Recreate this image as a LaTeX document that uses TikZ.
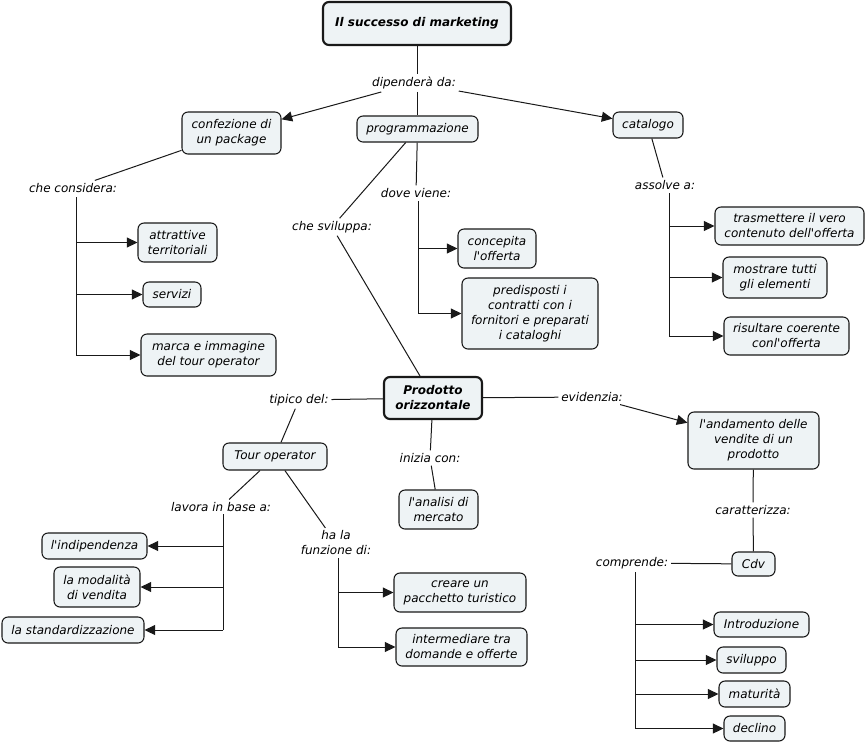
\documentclass[tikz,border=0pt]{standalone}
\usepackage{fontspec}
\newfontfamily\dv{DejaVu Sans}
\usetikzlibrary{arrows.meta}
\definecolor{boxfill}{RGB}{238,243,245}
\definecolor{ln}{RGB}{25,25,25}
\begin{document}
\begin{tikzpicture}[x=0.75pt,y=-0.75pt,
  every node/.style={font=\dv\fontsize{9}{11.25}\selectfont\itshape},
  box/.style={draw=ln, line width=0.8pt, fill=boxfill, rounded corners=4.5pt, align=center, inner sep=2pt},
  bigbox/.style={box, line width=1.6pt, font=\dv\fontsize{9}{11.25}\selectfont\bfseries\itshape},
  lbl/.style={align=center, inner sep=2pt},
  wh/.style 2 args={minimum width=#1*0.75pt, minimum height=#2*0.75pt},
  conn/.style={draw=ln, line width=0.75pt},
  arr/.style={conn, -{Triangle[length=8pt,width=7.5pt]}}]
\useasboundingbox (0,0) rectangle (866,744);
\fill[white] (0,0) rectangle (866,744);
% nodes
\node[bigbox, wh={188}{43}] (title) at (417,23.5) {Il successo di marketing};
\node[lbl] (dip) at (414,83) {dipenderà da:};
\node[box, wh={99}{42}] (conf) at (231.5,133) {confezione di\\un package};
\node[box, wh={121}{26}] (prog) at (417.5,129) {programmazione};
\node[box, wh={70}{26}] (cat) at (648,125) {catalogo};
\node[lbl] (chec) at (73,188) {che considera:};
\node[box, wh={79}{39}] (attr) at (177.5,242.5) {attrattive\\territoriali};
\node[box, wh={58}{25}] (serv) at (172,294.5) {servizi};
\node[box, wh={135}{42}] (marca) at (208.5,355) {marca e immagine\\del tour operator};
\node[lbl] (dove) at (416,193) {dove viene:};
\node[box, wh={78}{39}] (conc) at (497,248.5) {concepita\\l'offerta};
\node[box, wh={136}{71}] (pred) at (530,313.5) {predisposti i\\contratti con i\\fornitori e preparati\\i cataloghi};
\node[lbl] (svil) at (332,227) {che sviluppa:};
\node[lbl] (ass) at (665,185) {assolve a:};
\node[box, wh={149}{38}] (tras) at (789.5,226) {trasmettere il vero\\contenuto dell'offerta};
\node[box, wh={104}{41}] (most) at (775,277.5) {mostrare tutti\\gli elementi};
\node[box, wh={125}{38}] (ris) at (786.5,336) {risultare coerente\\conl'offerta};
\node[bigbox, wh={98}{42}] (prod) at (433,398) {Prodotto\\orizzontale};
\node[lbl] (tip) at (299,400) {tipico del:};
\node[box, wh={104}{27}] (tour) at (275,456.5) {Tour operator};
\node[lbl] (iniz) at (430,458) {inizia con:};
\node[box, wh={79}{39}] (anal) at (438.5,509.5) {l'analisi di\\mercato};
\node[lbl] (evid) at (592,397) {evidenzia:};
\node[box, wh={131}{57}] (andam) at (753.5,440.5) {l'andamento delle\\vendite di un\\prodotto};
\node[lbl] (car) at (753,510) {caratterizza:};
\node[box, wh={43}{24}] (cdv) at (753.5,564) {Cdv};
\node[lbl] (comp) at (632,563) {comprende:};
\node[box, wh={95}{25}] (intro) at (761.5,624.5) {Introduzione};
\node[box, wh={69}{26}] (svilu) at (751.5,660) {sviluppo};
\node[box, wh={71}{26}] (mat) at (754.5,694) {maturità};
\node[box, wh={61}{25}] (decl) at (754.5,728.5) {declino};
\node[lbl] (lav) at (221,507) {lavora in base a:};
\node[box, wh={105}{26}] (indip) at (94.5,546) {l'indipendenza};
\node[box, wh={86}{40}] (moda) at (97,587) {la modalità\\di vendita};
\node[box, wh={142}{26}] (stand) at (73,630) {la standardizzazione};
\node[lbl] (funz) at (336,543) {ha la\\funzione di:};
\node[box, wh={132}{39}] (crea) at (460,592.5) {creare un\\pacchetto turistico};
\node[box, wh={131}{38}] (inter) at (461.5,647) {intermediare tra\\domande e offerte};
% connectors
\draw[conn] (title) -- (title |- dip.north);
\draw[conn] (dip.south -| prog) -- (prog);
\draw[arr] (dip) -- (conf);
\draw[arr] (dip) -- (cat);
\draw[conn] (conf) -- (chec);
\draw[conn] (prog) -- (dove);
\draw[conn] (prog) -- (svil);
\draw[conn] (svil) -- (prod);
\draw[conn] (cat) -- (ass);
\draw[conn] (prod) -- (tip);
\draw[conn] (tip) -- (tour);
\draw[conn] (prod) -- (iniz);
\draw[conn] (iniz) -- (anal);
\draw[conn] (prod) -- (evid);
\draw[arr] (evid) -- (andam);
\draw[conn] (andam) -- (car);
\draw[conn] (car) -- (cdv);
\draw[conn] (cdv) -- (comp);
\draw[conn] (tour) -- (lav);
\draw[conn] (tour) -- (funz);
% trunks
\coordinate (ccx) at (76,197);
\draw[conn] (ccx) -- (ccx |- marca.west);
\draw[arr] (ccx |- attr.west) -- (attr.west);
\draw[arr] (ccx |- serv.west) -- (serv.west);
\draw[arr] (ccx |- marca.west) -- (marca.west);
\coordinate (dvx) at (418,201);
\draw[conn] (dvx) -- (dvx |- pred.west);
\draw[arr] (dvx |- conc.west) -- (conc.west);
\draw[arr] (dvx |- pred.west) -- (pred.west);
\coordinate (asx) at (669,193);
\draw[conn] (asx) -- (asx |- ris.west);
\draw[arr] (asx |- tras.west) -- (tras.west);
\draw[arr] (asx |- most.west) -- (most.west);
\draw[arr] (asx |- ris.west) -- (ris.west);
\coordinate (lvx) at (223,514);
\draw[conn] (lvx) -- (lvx |- stand.east);
\draw[arr] (lvx |- indip.east) -- (indip.east);
\draw[arr] (lvx |- moda.east) -- (moda.east);
\draw[arr] (lvx |- stand.east) -- (stand.east);
\coordinate (fzx) at (338,558);
\draw[conn] (fzx) -- (fzx |- inter.west);
\draw[arr] (fzx |- crea.west) -- (crea.west);
\draw[arr] (fzx |- inter.west) -- (inter.west);
\coordinate (cpx) at (635,572);
\draw[conn] (cpx) -- (cpx |- decl.west);
\draw[arr] (cpx |- intro.west) -- (intro.west);
\draw[arr] (cpx |- svilu.west) -- (svilu.west);
\draw[arr] (cpx |- mat.west) -- (mat.west);
\draw[arr] (cpx |- decl.west) -- (decl.west);
\end{tikzpicture}
\end{document}
